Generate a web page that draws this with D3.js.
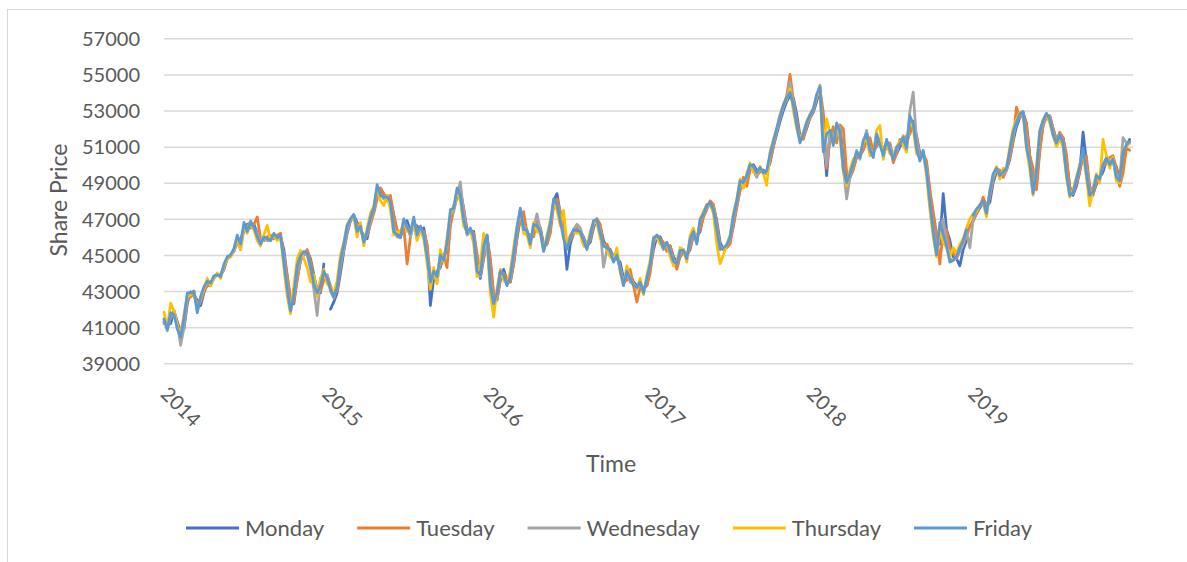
<!DOCTYPE html>
<html>
<head>
<meta charset="utf-8">
<script src="https://cdn.jsdelivr.net/npm/d3@7"></script>
<style>
  body { margin: 0; background: #fff; }
  text { font-family: Lato, "Open Sans", sans-serif; fill: #595959; }
</style>
</head>
<body>
<svg id="chart" width="1187" height="562"></svg>
<script>
// Weekly closing share price by weekday, 2014–2019
const years = ["2014", "2015", "2016", "2017", "2018", "2019"];
const yTicks = [39000, 41000, 43000, 45000, 47000, 49000, 51000, 53000, 55000, 57000];
const seriesNames = ["Monday", "Tuesday", "Wednesday", "Thursday", "Friday"];
const seriesColors = ["#4472C4", "#ED7D31", "#A5A5A5", "#FFC000", "#5B9BD5"];

const monday = [
41300,41100,41200,41900,41300,40700,40900,42300,42950,42800,
42500,42200,42900,43400,43500,43700,43950,43850,44200,44800,
45000,45200,45800,45900,46300,46700,46500,46700,46200,45800,
45800,46000,45850,46000,46100,46000,45300,43800,42400,42300,
43700,44700,45100,45200,44800,43900,43000,42900,44500,null,
42000,42400,42900,44000,45200,46200,46900,47200,46800,46400,
46100,45900,46800,47400,48300,48700,48300,48300,48100,47200,
46300,46000,46500,46900,46300,46700,46600,46300,46500,45500,
42200,43700,44100,44300,45000,45200,46800,47700,48200,48600,
47500,46400,46300,46300,44900,43700,44800,46100,44600,42700,
42500,43600,44200,43600,43500,44500,45900,47000,46900,46300,
46000,46300,46700,46500,45600,45600,46300,48000,48400,47300,
46400,44200,45600,46200,46400,46300,46000,45500,45700,46500,
47000,46600,45800,45400,45300,44900,44800,44600,43700,43700,
43900,43500,43300,43300,43200,43300,44200,45300,46000,46000,
45600,45500,45500,44900,44600,44900,45200,45000,45300,46100,
46000,46300,47200,47600,47800,47700,46900,45700,45300,45500,
45800,46600,47700,48600,49100,49200,49700,50000,49700,49700,
49700,49600,50100,51000,51700,52400,53000,53500,53800,53700,
52800,51600,51500,52000,52600,52900,53500,54200,51500,49400,
51700,51800,51600,52100,50400,49300,49300,49800,50400,50600,
50900,51500,51200,50700,51100,51400,50800,50900,51100,50500,
50600,51000,51300,51200,51800,52400,51600,50600,50500,50000,
48500,47000,45700,45600,48400,46400,45800,44900,44800,44400,
45300,45800,null,46900,47300,47600,47900,47700,47900,49000,
49600,49600,49500,49700,50300,51300,52100,52600,52900,52300,
50500,49200,48900,50900,52200,52700,52700,52000,51400,51400,
51500,50300,48800,48300,48800,49600,51800,50200,48800,48400,
48900,49300,49600,50200,50200,50200,49900,49200,49800,51000,
51400
];

const tuesday = [
41200,41300,41500,41900,41000,40400,41200,42500,42700,42800,
42300,42400,43000,43300,43300,43800,43900,43900,44300,44800,
44900,45300,45900,45800,46500,46600,46700,46700,47100,45900,
45800,46000,46100,45900,46100,46200,45000,43900,42600,42400,
43600,44700,45000,45300,44700,43700,43100,43000,43600,43900,
43300,42800,43000,44300,45400,46300,46900,47100,46700,46400,
45900,46100,46700,47300,48100,48700,48400,48000,48300,47200,
46400,46200,46600,44500,46000,46900,46400,46400,46300,45600,
43800,43900,44000,44400,44900,44300,46600,47500,48200,48500,
47600,46300,46400,46200,45100,44000,44800,46000,44800,42800,
42500,43700,44000,43700,43500,44500,46000,47200,47400,46200,
46100,46000,46900,46500,45400,45600,46200,47700,48100,47400,
46700,45500,45800,46200,46500,46200,45900,45600,45800,46600,
47000,46700,45500,45600,45200,44900,44900,44300,43500,43600,
44200,43300,42400,43200,43100,43300,44000,45600,46100,45900,
45700,45200,45500,44800,44200,44900,45200,44900,45400,46200,
46100,46400,47100,47500,48000,47800,46800,45500,45300,45400,
45600,46700,47600,48600,49300,48800,49700,49900,49400,49600,
49600,49500,50200,51000,51900,52600,53300,53800,55000,53600,
52500,51500,51400,52100,52600,53000,53700,54200,52900,49800,
51500,52100,51200,52200,52000,49600,49300,49700,50500,50500,
50800,51300,51500,50700,51000,51300,50800,51100,51200,50100,
50600,51400,51100,51600,51700,52200,51500,50500,50600,50200,
48600,47400,46200,44500,46400,46400,45400,45100,44800,45200,
45600,46000,46600,46900,47300,47700,48200,47700,48200,49200,
49800,49700,49300,49700,50400,51300,53190,52600,52800,52200,
50500,49800,48600,50700,52200,52600,52700,52000,51300,51800,
51500,50600,48700,48400,49000,49600,50400,50500,48700,48300,
49000,49300,49900,50100,50400,50500,49800,48800,49500,50900,
50800
];

const wednesday = [
41400,40800,41600,41800,41200,40000,41000,42600,42800,42900,
42100,42500,43100,43500,43400,43800,43900,43800,44400,44800,
45000,45200,45700,45300,46400,46500,46900,46500,46200,45700,
45900,45800,45800,46100,45900,46000,44900,43300,42200,42700,
44000,44800,45100,45000,44200,43100,41650,43700,43800,43900,
43000,42600,43300,44500,45300,46400,46900,47200,46500,46500,
45800,46200,46900,47500,48600,48400,48100,48300,47900,46600,
46000,46000,46900,46600,46000,46700,46200,46500,46200,45100,
43300,44000,43500,44700,44900,45400,47200,47400,48400,49040,
47300,46100,46300,46100,44500,43800,45100,45900,43600,42400,
42700,44000,43700,43400,43700,44900,46300,47500,46600,46300,
45700,46500,47280,46400,45300,45800,46600,47900,47800,47100,
46100,45400,45900,46400,46700,46500,45900,45400,46000,46700,
46900,46400,44330,45300,45200,44800,44900,44300,43400,44000,
43500,43400,43100,43400,43000,43600,44400,45700,46000,45700,
45300,45600,45300,44700,44600,45100,45300,44900,45700,46200,
45700,46800,47300,47600,47800,47600,46500,45400,45400,45500,
45900,47000,47900,48900,49100,49300,50000,49700,49300,49800,
49600,49600,50400,51200,51900,52600,53200,53700,54600,53400,
52300,51300,51600,52200,52700,53000,53800,54400,51200,50000,
51800,51600,51600,52100,49900,48100,49300,50000,50800,50300,
51200,51900,50900,50600,51700,51300,50600,51300,51000,50400,
50800,51200,51600,51000,53000,54020,51300,50400,50700,49800,
48000,46500,45300,46400,47000,45700,44800,44700,44900,45200,
45600,46300,45400,47000,47500,47700,47900,47400,48300,49300,
49700,49500,49500,49700,50700,51600,52300,52700,52800,51300,
50200,48600,49400,51600,52300,52800,52600,51800,51300,51700,
51300,49600,48400,48400,49100,49800,50700,49800,48400,48500,
49300,49300,49900,50400,50200,50200,49500,49200,51500,51200,
51200
];

const thursday = [
41830,41000,42330,41900,41100,40600,41700,42700,42800,43000,
41920,42600,43100,43700,43300,43700,44000,43700,44400,44800,
44900,45300,45900,45300,46600,46200,46700,46400,45800,45500,
46100,46640,45800,46100,45800,46000,44300,42700,41740,43300,
44800,45250,44800,44300,43500,43900,42700,43700,44200,43400,
43200,42900,43600,45000,45700,46700,47000,47100,46000,46800,
45500,46500,47300,47700,48700,48000,47740,48300,47500,46100,
46300,46200,46900,46300,46400,46700,45800,46400,45900,44600,
43100,44300,43400,45300,44600,46000,47300,47700,48500,48000,
46600,46300,46400,45600,43800,44500,46200,45600,42900,41560,
43100,44200,43600,43400,44100,45400,46600,47400,46200,46100,
45400,46800,46300,46200,45200,46100,46900,47900,47500,46600,
47470,45600,46100,46300,46200,46200,45500,45400,46300,46800,
46800,45900,45600,45300,44900,44700,45400,44000,43300,44400,
43700,43400,43100,43700,42800,43900,44700,46000,46000,45600,
45500,45700,44900,44400,44600,45400,45300,44600,46100,46500,
45700,47000,47400,47800,47800,47300,45600,44510,45000,45600,
46100,47300,48100,49200,48700,49500,50100,49600,49500,49900,
49500,48850,50700,51400,52000,52800,53300,53600,54200,53000,
52000,51400,51800,52400,52800,53100,53800,54100,50800,52540,
51700,51200,52300,51500,49600,48840,49700,50300,50500,50600,
51200,51500,50500,50500,51900,52170,50300,51200,50600,50500,
51000,51300,51100,50700,52600,52000,50600,50400,50600,49400,
47500,46000,44900,46300,45700,45400,44900,45400,45100,45600,
45900,46500,47000,47300,47400,47800,47900,47100,48600,49400,
49900,49200,49800,49800,51000,52000,52500,52900,52800,50900,
49700,48300,49900,51900,52500,52800,52300,51600,51000,51400,
51000,49300,48200,48600,49300,50000,50700,49300,47720,48700,
49500,49000,51400,50500,49800,50400,49100,49000,50800,51000,
51200
];

const friday = [
41460,40900,41800,41700,40900,40450,41500,42900,42900,43000,
41800,42700,43250,43550,43450,43850,43900,43800,44500,44900,
45000,45350,46100,45600,46800,46300,46800,46550,46000,45600,
46000,45900,45800,46200,45950,46100,44600,43100,41900,42800,
44400,44950,45200,45100,44400,43400,42900,43300,44100,43700,
43100,42700,43200,44700,45600,46600,47000,47250,46300,46600,
45700,46300,47100,47600,48900,48300,48200,48200,47950,46300,
46100,45950,47000,46500,46200,47100,46100,46600,46100,44900,
43500,44100,43800,45000,44700,45700,47500,47600,48700,48300,
46900,46200,46500,46000,44100,43900,45500,46100,43300,42300,
42900,44100,43900,43300,43800,45100,46500,47600,46400,46400,
45600,46700,46600,46300,45200,45900,46700,48100,47800,46900,
45900,45300,46000,46400,46350,46300,45800,45300,46100,46900,
46950,46200,45500,45400,45200,44600,45000,44200,43300,44100,
43700,43300,43200,43500,42900,43700,44500,45900,46100,45850,
45400,45700,45200,44650,44500,45250,45250,44800,45900,46300,
45600,46950,47300,47750,47900,47500,46400,45300,45400,45550,
46000,47200,48000,49100,49000,49400,50000,49900,49550,49850,
49550,49650,50600,51300,52000,52700,53300,53700,54000,53300,
52200,51200,51700,52350,52750,53100,53900,54300,50700,51700,
51900,51060,52300,51800,49750,49000,49500,50100,50700,50400,
51350,51700,50800,50400,51700,51100,50500,51400,50800,50300,
50950,51150,51500,50900,52700,52250,50900,50200,50800,49600,
47900,46300,45000,46800,46150,45500,44600,44700,44900,45400,
45800,46400,null,47200,47550,47750,48000,47300,48500,49500,
49800,49400,49600,49800,50800,51800,52350,52800,52950,51000,
50100,48400,49650,51850,52450,52850,52500,51650,51200,51650,
51200,49500,48300,48450,49200,49900,50900,49500,48300,48500,
49400,49200,50000,50350,50000,50300,49300,49100,50700,51100,
51300
];

const seriesValues = [monday, tuesday, wednesday, thursday, friday];

const svg = d3.select("#chart");

// chart frame
svg.append("rect")
  .attr("x", 7.5).attr("y", 9.5)
  .attr("width", 1190).attr("height", 560)
  .attr("fill", "#fff").attr("stroke", "#d9d9d9").attr("stroke-width", 1);

const plotLeft = 164, plotRight = 1133;
const firstYear = +years[0];
const nYears = years.length;

const x = d3.scaleLinear().domain([firstYear, firstYear + nYears]).range([plotLeft, plotRight]);
const y = d3.scaleLinear().domain([39000, 57000]).range([363.3, 38.3]);

// value axis with horizontal gridlines
const gy = svg.append("g")
  .attr("transform", `translate(${plotLeft},0)`)
  .call(d3.axisLeft(y).tickValues(yTicks).tickSize(-(plotRight - plotLeft)).tickFormat(d3.format("d")));
gy.select(".domain").remove();
gy.selectAll(".tick line").attr("stroke", "#d9d9d9").attr("stroke-width", 1.5);
gy.selectAll(".tick text")
  .attr("x", -24).attr("dy", "0.36em")
  .attr("font-size", 20).style("font-family", "Lato, 'Open Sans', sans-serif").attr("fill", "#595959");

// time axis with slanted year labels
const gx = svg.append("g")
  .attr("transform", `translate(0,${y(39000)})`)
  .call(d3.axisBottom(x).tickValues(years.map(Number)).tickSize(0).tickFormat((d, i) => years[i]));
gx.select(".domain").remove();
gx.selectAll(".tick text")
  .attr("x", 0).attr("y", 0).attr("dy", null)
  .attr("text-anchor", "start")
  .attr("transform", "translate(-5,32) rotate(45)")
  .attr("font-size", 20).style("font-family", "Lato, 'Open Sans', sans-serif").attr("fill", "#595959");

// series lines
const n = friday.length;
const line = d3.line()
  .defined(d => d != null)
  .x((d, i) => x(firstYear + nYears * i / n))
  .y(d => y(d));

seriesValues.forEach((vals, s) => {
  svg.append("path")
    .datum(vals)
    .attr("fill", "none")
    .attr("stroke", seriesColors[s])
    .attr("stroke-width", 2.75)
    .attr("stroke-linejoin", "round")
    .attr("stroke-linecap", "round")
    .attr("d", line);
});

// axis titles
svg.append("text")
  .attr("transform", "translate(67,200) rotate(-90)")
  .attr("text-anchor", "middle")
  .attr("font-size", 23)
  .text("Share Price");

svg.append("text")
  .attr("x", 611).attr("y", 472)
  .attr("text-anchor", "middle")
  .attr("font-size", 23)
  .text("Time");

// legend
const legend = svg.append("g");
let lx = 186;
seriesNames.forEach((name, s) => {
  legend.append("line")
    .attr("x1", lx).attr("x2", lx + 53)
    .attr("y1", 528).attr("y2", 528)
    .attr("stroke", seriesColors[s]).attr("stroke-width", 3);
  const t = legend.append("text")
    .attr("x", lx + 59).attr("y", 535.5)
    .attr("font-size", 22)
    .text(name);
  lx += 59 + t.node().getComputedTextLength() + 33;
});
</script>
</body>
</html>
